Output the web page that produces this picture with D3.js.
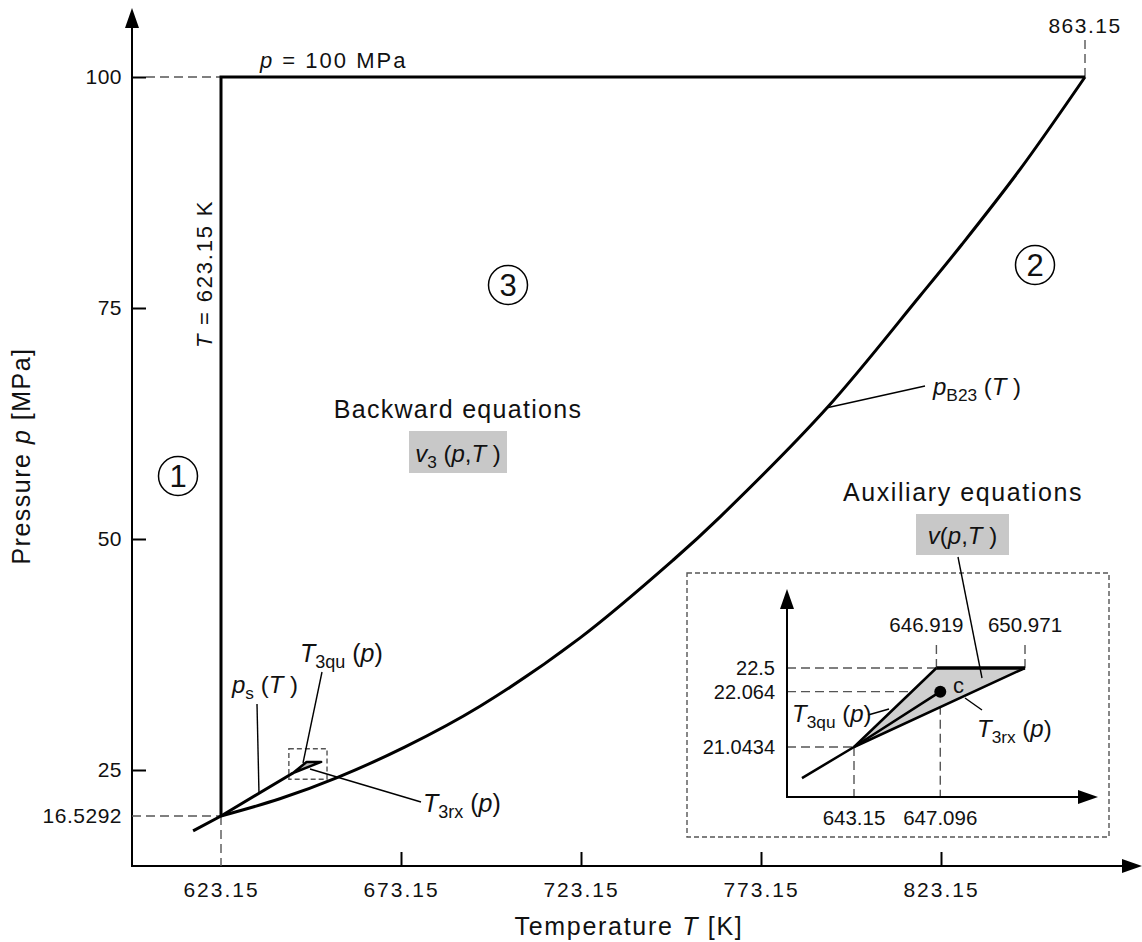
<!DOCTYPE html>
<html>
<head>
<meta charset="utf-8">
<script src="https://cdn.jsdelivr.net/npm/d3@7"></script>
<style>
  body { margin: 0; background: #fff; }
  svg text { font-family: "Liberation Sans", Arial, sans-serif; fill: #111; }
</style>
</head>
<body>
<svg id="chart" width="1142" height="942"></svg>
<script>
// ---- axis ticks ----
const tempTicks = [623.15, 673.15, 723.15, 773.15, 823.15];
const presTicks = [16.5292, 25, 50, 75, 100];
const tempMax = 863.15;
const presMax = 100;

// ---- p_B23(T) boundary between regions 2 and 3 ----
const b23T = [623.15, 639.5, 655.4, 674.3, 695.1, 722.9, 748.7, 761.8, 791.5, 817.3, 829.0, 845.1, 863.15];
const b23P = [16.5292, 19.7, 23.6, 27.5, 31.9, 39.3, 47.7, 52.4, 64.2, 76.3, 81.9, 90.0, 100];

// ---- saturation line and the near-critical triangle (main frame, schematic) ----
const satT = [615.4, 623.15, 643.15];
const satP = [13.8, 16.5292, 24.45];
const triMainT = [643.15, 646.919, 650.971];
const triMainP = [24.45, 25.87, 25.87];
const windowT = [642.0, 652.6];
const windowP = [23.3, 27.3];

// ---- enlarged near-critical region ----
const insetTempLow = [643.15, 647.096];
const insetTempHigh = [646.919, 650.971];
const insetPresTicks = [21.0434, 22.064, 22.5];
const insetSatT = [640.77, 643.15, 647.096];
const insetSatP = [20.47, 21.0434, 22.064];
const triT = [643.15, 646.919, 650.971];
const triP = [21.0434, 22.5, 22.5];
const critT = 647.096, critP = 22.064;

const svg = d3.select("#chart");

// main scales
const x = d3.scaleLinear().domain([623.15, tempMax]).range([221, 1085]);
const y = d3.scaleLinear().domain([16.5292, 25, presMax]).range([816, 770, 77]);
// inset scales
const xi = d3.scaleLinear().domain([643.15, 650.971]).range([854, 1025]);
const yi = d3.scaleLinear().domain([21.0434, 22.5]).range([747, 668]);

const frame = { left: 132, bottom: 866, top: 8, right: 1142 };

function arrowUp(g, cx, tipY) {
  g.append("path").attr("d", `M${cx},${tipY} L${cx - 7},${tipY + 20} L${cx + 7},${tipY + 20} Z`).attr("fill", "#000");
}
function arrowRight(g, tipX, cy) {
  g.append("path").attr("d", `M${tipX},${cy} L${tipX - 20},${cy - 7} L${tipX - 20},${cy + 7} Z`).attr("fill", "#000");
}

// text with italic symbols and subscripts: style "i" italic, "s" subscript, "" upright
function mathText(g, px, py, parts, size, anchor) {
  const t = g.append("text").attr("x", px).attr("y", py).attr("font-size", size)
    .attr("text-anchor", anchor || "start");
  let shift = 0;
  parts.forEach(([s, st]) => {
    const ts = t.append("tspan").text(s);
    if (st === "i") ts.attr("font-style", "italic");
    if (st === "s") {
      ts.attr("font-size", size * 0.72).attr("dy", 6 - shift);
      shift = 6;
    } else if (shift) {
      ts.attr("dy", -shift);
      shift = 0;
    }
  });
  return t;
}

const dashStyle = (sel, dash) => sel.attr("stroke", "#555").attr("stroke-width", 1.4)
  .attr("stroke-dasharray", dash || "9,5").attr("fill", "none");

// ---------- main frame ----------
const main = svg.append("g");

// axes
const yAxis = d3.axisLeft(y).tickValues(presTicks).tickSizeInner(-14).tickSizeOuter(0)
  .tickPadding(24).tickFormat(d => String(d));
const gy = main.append("g").attr("transform", `translate(${frame.left},0)`).call(yAxis);
gy.select(".domain").remove();
gy.selectAll(".tick line").attr("stroke", "#000").attr("stroke-width", 2)
  .filter(d => d === 16.5292).remove();
gy.selectAll(".tick text").attr("font-size", 21).attr("font-family", "Liberation Sans, Arial, sans-serif")
  .attr("fill", "#111").attr("x", -10).attr("letter-spacing", 0.5);

const xAxis = d3.axisBottom(x).tickValues(tempTicks).tickSizeInner(-14).tickSizeOuter(0)
  .tickPadding(30).tickFormat(d => d.toFixed(2));
const gx = main.append("g").attr("transform", `translate(0,${frame.bottom})`).call(xAxis);
gx.select(".domain").remove();
gx.selectAll(".tick line").attr("stroke", "#000").attr("stroke-width", 2)
  .filter(d => d === 623.15).remove();
gx.selectAll(".tick text").attr("font-size", 21).attr("font-family", "Liberation Sans, Arial, sans-serif")
  .attr("fill", "#111").attr("y", 16).attr("dy", "0.71em").attr("letter-spacing", 2);

main.append("line").attr("x1", frame.left).attr("x2", frame.left).attr("y1", frame.bottom + 1).attr("y2", frame.top + 18)
  .attr("stroke", "#000").attr("stroke-width", 2);
arrowUp(main, frame.left, frame.top);
main.append("line").attr("x1", frame.left - 1).attr("x2", frame.right - 18).attr("y1", frame.bottom).attr("y2", frame.bottom)
  .attr("stroke", "#000").attr("stroke-width", 2);
arrowRight(main, frame.right, frame.bottom);

// dashed guides
dashStyle(main.append("line").attr("x1", frame.left + 14).attr("x2", x(623.15)).attr("y1", y(100)).attr("y2", y(100)));
dashStyle(main.append("line").attr("x1", frame.left).attr("x2", x(623.15)).attr("y1", y(16.5292)).attr("y2", y(16.5292)));
dashStyle(main.append("line").attr("x1", x(623.15)).attr("x2", x(623.15)).attr("y1", y(16.5292)).attr("y2", frame.bottom));
dashStyle(main.append("line").attr("x1", x(tempMax)).attr("x2", x(tempMax)).attr("y1", y(100)).attr("y2", 40));
main.append("text").attr("x", x(tempMax)).attr("y", 33).attr("text-anchor", "middle")
  .attr("font-size", 21).attr("letter-spacing", 1.5).text("863.15");

// region 3 boundary lines
main.append("path").attr("d", d3.line()([[x(623.15), y(16.5292)], [x(623.15), y(100)], [x(tempMax), y(100)]]))
  .attr("stroke", "#000").attr("stroke-width", 3).attr("fill", "none").attr("stroke-linejoin", "miter");

const b23 = b23T.map((t, i) => [x(t), y(b23P[i])]);
main.append("path").attr("d", d3.line().curve(d3.curveCatmullRom.alpha(0.5))(b23))
  .attr("stroke", "#000").attr("stroke-width", 3).attr("fill", "none");

// saturation line and triangle
main.append("path").attr("d", d3.line()(satT.map((t, i) => [x(t), y(satP[i])])))
  .attr("stroke", "#000").attr("stroke-width", 3).attr("fill", "none");
main.append("path").attr("d", d3.line()(triMainT.map((t, i) => [x(t), y(triMainP[i])])) + "Z")
  .attr("stroke", "#000").attr("stroke-width", 2.5).attr("fill", "#bbb").attr("stroke-linejoin", "round");
dashStyle(main.append("rect").attr("x", x(windowT[0])).attr("y", y(windowP[1]))
  .attr("width", x(windowT[1]) - x(windowT[0])).attr("height", y(windowP[0]) - y(windowP[1])), "5,3");

// axis titles
mathText(main, 629, 935, [["Temperature ", ""], ["T", "i"], [" [K]", ""]], 25, "middle").attr("letter-spacing", 1.7);
mathText(main, 0, 0, [["Pressure ", ""], ["p", "i"], [" [MPa]", ""]], 25, "middle")
  .attr("transform", "translate(30,456) rotate(-90)").attr("letter-spacing", 1.5);

// annotations
mathText(main, 260, 68, [["p", "i"], [" = 100 MPa", ""]], 22).attr("letter-spacing", 2);
mathText(main, 0, 0, [["T", "i"], [" = 623.15 K", ""]], 22, "middle")
  .attr("transform", "translate(212,274) rotate(-90)").attr("letter-spacing", 1.8);

function circled(g, cx, cy, s) {
  g.append("circle").attr("cx", cx).attr("cy", cy).attr("r", 19.5).attr("fill", "none")
    .attr("stroke", "#000").attr("stroke-width", 1.5);
  g.append("text").attr("x", cx).attr("y", cy + 11).attr("text-anchor", "middle").attr("font-size", 31).text(s);
}
circled(main, 178, 476, "1");
circled(main, 508, 285, "3");
circled(main, 1035, 265, "2");

main.append("text").attr("x", 458).attr("y", 418).attr("text-anchor", "middle").attr("font-size", 25)
  .attr("letter-spacing", 1.3).text("Backward equations");
main.append("rect").attr("x", 409).attr("y", 431).attr("width", 98).attr("height", 42).attr("fill", "#c8c8c8");
mathText(main, 458, 462, [["v", "i"], ["3", "s"], [" (", ""], ["p", "i"], [",", ""], ["T", "i"], [" )", ""]], 24, "middle");

// p_B23 label and leader
const leadIdx = 8;
main.append("line").attr("x1", x(b23T[leadIdx])).attr("y1", y(b23P[leadIdx])).attr("x2", 925).attr("y2", 386)
  .attr("stroke", "#000").attr("stroke-width", 1.4);
mathText(main, 933, 395, [["p", "i"], ["B23", "s"], [" (", ""], ["T", "i"], [" )", ""]], 24);

// leaders near the critical region
main.append("line").attr("x1", 322).attr("y1", 672).attr("x2", 303).attr("y2", 763).attr("stroke", "#000").attr("stroke-width", 1.4);
mathText(main, 300, 662, [["T", "i"], ["3qu", "s"], [" (", ""], ["p", "i"], [")", ""]], 25);
main.append("line").attr("x1", 257).attr("y1", 704).attr("x2", 259).attr("y2", 794).attr("stroke", "#000").attr("stroke-width", 1.4);
mathText(main, 232, 693, [["p", "i"], ["s", "s"], [" (", ""], ["T", "i"], [" )", ""]], 24);
main.append("line").attr("x1", 310).attr("y1", 769).attr("x2", 421).attr("y2", 802).attr("stroke", "#000").attr("stroke-width", 1.4);
mathText(main, 423, 812, [["T", "i"], ["3rx", "s"], [" (", ""], ["p", "i"], [")", ""]], 25);

// ---------- enlarged near-critical region ----------
const ins = svg.append("g");
dashStyle(ins.append("rect").attr("x", 687).attr("y", 573).attr("width", 422).attr("height", 264), "5,3");

ins.append("text").attr("x", 963).attr("y", 501).attr("text-anchor", "middle").attr("font-size", 25)
  .attr("letter-spacing", 1.6).text("Auxiliary equations");
ins.append("rect").attr("x", 916).attr("y", 514).attr("width", 93).attr("height", 41).attr("fill", "#c8c8c8");
mathText(ins, 962.5, 544, [["v", "i"], ["(", ""], ["p", "i"], [",", ""], ["T", "i"], [" )", ""]], 24, "middle");

const iLeft = 787, iBottom = 797;
// guides
insetPresTicks.forEach(p => {
  const tx = p === 22.5 ? xi(646.919) : p === 22.064 ? xi(critT) : xi(643.15);
  dashStyle(ins.append("line").attr("x1", iLeft).attr("x2", tx).attr("y1", yi(p)).attr("y2", yi(p)));
  ins.append("text").attr("x", 775).attr("y", yi(p)).attr("dy", "0.35em").attr("text-anchor", "end")
    .attr("font-size", 20).text(String(p));
});
dashStyle(ins.append("line").attr("x1", xi(643.15)).attr("x2", xi(643.15)).attr("y1", yi(21.0434)).attr("y2", iBottom));
dashStyle(ins.append("line").attr("x1", xi(critT)).attr("x2", xi(critT)).attr("y1", yi(critP)).attr("y2", iBottom));
insetTempLow.forEach(t => {
  ins.append("text").attr("x", xi(t)).attr("y", 825).attr("text-anchor", "middle")
    .attr("font-size", 20.5).text(String(t));
});
insetTempHigh.forEach((t, i) => {
  dashStyle(ins.append("line").attr("x1", xi(t)).attr("x2", xi(t)).attr("y1", yi(22.5)).attr("y2", 642));
  ins.append("text").attr("x", xi(t)).attr("dx", i === 0 ? -10 : 0).attr("y", 632).attr("text-anchor", "middle")
    .attr("font-size", 20.5).text(String(t));
});

// triangle, saturation line, critical point
ins.append("path").attr("d", d3.line()(triT.map((t, i) => [xi(t), yi(triP[i])])) + "Z")
  .attr("fill", "#cfcfcf").attr("stroke", "none");
ins.append("path").attr("d", d3.line()([[xi(triT[1]), yi(triP[1])], [xi(triT[0]), yi(triP[0])], [xi(triT[2]), yi(triP[2])]]))
  .attr("stroke", "#000").attr("stroke-width", 2.5).attr("fill", "none");
ins.append("line").attr("x1", xi(triT[1])).attr("x2", xi(triT[2])).attr("y1", yi(22.5)).attr("y2", yi(22.5))
  .attr("stroke", "#000").attr("stroke-width", 3.5);
ins.append("path").attr("d", d3.line()(insetSatT.map((t, i) => [xi(t), yi(insetSatP[i])])))
  .attr("stroke", "#000").attr("stroke-width", 2.5).attr("fill", "none");
ins.append("circle").attr("cx", xi(critT)).attr("cy", yi(critP)).attr("r", 6).attr("fill", "#000");
ins.append("text").attr("x", 953).attr("y", 693).attr("font-size", 22).text("c");

// inset axes
ins.append("line").attr("x1", iLeft).attr("x2", iLeft).attr("y1", iBottom + 1).attr("y2", 605).attr("stroke", "#000").attr("stroke-width", 2);
arrowUp(ins, iLeft, 589);
ins.append("line").attr("x1", iLeft - 1).attr("x2", 1082).attr("y1", iBottom).attr("y2", iBottom).attr("stroke", "#000").attr("stroke-width", 2);
arrowRight(ins, 1098, iBottom);

// inset labels and leaders
ins.append("line").attr("x1", 958).attr("y1", 557).attr("x2", 982).attr("y2", 678).attr("stroke", "#000").attr("stroke-width", 1.4);
ins.append("line").attr("x1", 868).attr("y1", 715).attr("x2", 889).attr("y2", 709).attr("stroke", "#000").attr("stroke-width", 1.4);
mathText(ins, 792, 722, [["T", "i"], ["3qu", "s"], [" (", ""], ["p", "i"], [")", ""]], 24);
ins.append("line").attr("x1", 965).attr("y1", 698).attr("x2", 982).attr("y2", 710).attr("stroke", "#000").attr("stroke-width", 1.4);
mathText(ins, 977, 737, [["T", "i"], ["3rx", "s"], [" (", ""], ["p", "i"], [")", ""]], 24);
</script>
</body>
</html>
